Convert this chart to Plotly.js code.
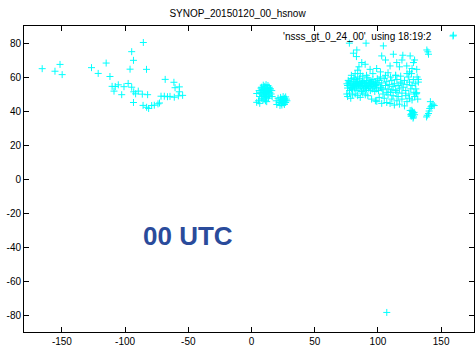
<!DOCTYPE html>
<html>
<head>
<meta charset="utf-8">
<script src="https://cdn.plot.ly/plotly-3.0.1.min.js"></script>
<style>html,body{margin:0;padding:0;background:#fff;}#chart{width:475px;height:350px;}</style>
</head>
<body>
<div id="chart"></div>
<script>
// North America stations (lon, lat)
const naLon = [-165.6,-155.5,-151.5,-149.8,-126.6,-115.0,-121.3,-112.0,-110.3,-108.8,-107.8,-105.4,-100.9,-97.6,-102.7,
  -85.6,-94.8,-93.4,-96.1,-83.1,-94.8,-93.2,-91.7,-89.6,-86.4,-82.2,-93.4,-85.8,-83.0,-81.4,-79.0,-76.9,-72.8,
  -71.6,-69.0,-64.5,-68.3,-61.4,-60.5,-57.1,-57.1,-57.9,-61.1,-54.5,-66.5,-74.0];
const naLat = [64.9,63.4,67.4,61.4,65.5,68.2,62.1,60.3,54.5,51.7,54.4,55.4,54.3,56.2,49.6,
  80.3,74.9,69.8,64.6,64.5,54.0,51.3,50.1,51.7,49.9,49.6,45.0,43.3,42.2,41.5,43.2,43.4,44.7,
  48.7,48.7,48.6,58.6,56.9,53.7,54.2,51.3,48.9,48.1,49.2,48.4,44.2];

// Europe stations
const euLon = [9.3,4.1,4.1,6.0,7.0,8.0,8.5,9.0,9.5,10.0,10.5,11.0,11.5,12.0,12.5,13.0,13.5,14.0,14.5,15.0,
  10.0,11.0,12.0,8.0,6.5,13.0,14.0,16.0,15.5,10.5,11.5,7.5,9.0,12.0,13.5,16.3,5.5,11.0,12.0,10.0,9.0,13.0,14.5,8.0,6.5,
  20.0,19.5,21.0,22.0,23.0,23.5,24.0,24.5,25.0,25.5,26.0,26.5,27.0,27.5,25.0,24.0,26.0,28.0,23.0,22.5,25.0,24.0,26.0,27.0];
const euLat = [55.2,50.3,45.1,52.0,51.0,50.0,52.5,49.0,51.0,53.0,50.0,52.0,48.5,51.0,53.5,50.0,52.0,49.0,51.0,53.0,
  47.0,46.0,45.5,47.5,48.5,55.0,54.0,52.0,50.0,54.5,55.5,53.5,46.5,48.0,47.5,48.5,46.0,50.0,52.0,51.0,52.0,51.5,53.0,54.0,44.5,
  43.8,46.0,47.5,45.0,46.5,44.5,47.0,45.5,46.5,44.8,47.5,46.0,45.0,47.0,48.5,43.5,43.8,46.0,48.0,43.2,45.0,46.0,46.5,48.3];

// Asia stations
const asLon = [77.4,90.6,104.3,80.6,83.3,103.0,112.2,119.7,125.5,138.7,140.0,159.7,139.5,
  87.2,89.9,93.8,109.6,114.9,122.8,128.1,130.7,132.0,130.7,130.0,83.0,85.0,99.0,106.0,114.0,82.0,123.0,127.0,
  84.0,96.0,102.0,108.0,117.0,125.0,86.0,119.0,129.0,
  75.5,76.0,76.5,77.0,77.5,78.0,78.5,79.0,79.5,80.0,80.5,81.0,81.5,82.0,82.5,83.0,83.5,84.0,84.5,85.0,
  85.5,86.0,86.5,87.0,87.5,88.0,88.5,89.0,89.5,90.0,90.5,91.0,91.5,92.0,92.5,93.0,93.5,94.0,94.5,95.0,
  95.5,96.0,96.5,97.0,97.5,98.0,98.5,99.0,99.5,100.0,
  76.0,78.0,80.0,82.0,84.0,86.0,88.0,90.0,92.0,94.0,96.0,98.0,77.0,79.0,81.0,83.0,85.0,87.0,89.0,91.0,
  93.0,95.0,97.0,99.0,81.0,84.0,88.0,91.0,79.0,
  100.5,101.0,102.0,103.0,104.0,105.0,106.0,107.0,108.0,109.0,110.0,111.0,112.0,113.0,114.0,115.0,116.0,117.0,
  118.0,119.0,120.0,102.0,106.0,110.0,114.0,118.0,104.0,108.0,112.0,116.0,103.0,107.0,111.0,115.0,119.0,
  121.0,122.0,123.0,124.0,124.5,125.0,126.0,126.5,127.0,128.0,128.5,129.0,129.5,130.0,131.0,131.5,132.0,
  122.0,125.0,127.0,130.5,
  92.0,95.0,98.0,99.1,101.0,103.0,105.0,107.0,109.6,111.0,113.0,115.0,117.0,119.0,121.0,123.0,
  75.4,76.0,77.5,78.5,80.0,82.0,84.0,86.0,88.0,90.0,
  126.0,126.5,127.0,127.5,128.0,126.8,127.2,128.2,129.0,126.3,127.8,128.6,125.5,126.9,127.4,
  141.5,142.5,143.5,141.0,140.5,140.0,139.0,138.5,144.5,142.0];
const asLat = [79.9,79.9,78.3,74.0,75.9,72.4,73.4,72.8,72.4,75.9,73.4,84.6,74.8,
  68.5,67.5,64.5,66.5,68.5,66.5,68.5,64.5,58.6,50.7,50.0,72.0,66.0,65.0,70.0,61.0,62.0,62.0,65.0,
  64.0,62.0,63.0,62.5,66.0,63.0,62.0,70.0,70.0,
  56.0,53.5,58.0,55.0,52.0,57.5,54.0,59.0,56.0,52.5,55.0,57.0,53.5,58.5,56.0,54.5,52.0,57.0,55.5,53.0,
  59.0,56.5,54.0,51.5,57.5,55.0,53.0,58.0,56.0,54.0,52.0,57.0,55.0,59.5,53.5,56.5,54.5,52.0,57.5,55.5,
  53.0,58.5,56.0,54.0,51.5,57.0,55.0,53.0,59.0,56.5,
  55.0,56.0,54.0,55.0,56.0,55.0,57.0,56.0,55.0,56.0,54.5,55.5,57.0,53.0,55.5,57.5,55.0,56.0,54.5,53.0,
  58.0,57.0,56.0,55.5,59.5,60.0,60.5,61.0,61.0,
  52.0,58.0,54.0,56.5,52.5,59.0,55.0,57.5,53.0,55.5,51.0,58.0,54.5,56.0,52.0,58.5,55.0,53.0,
  57.0,50.5,54.0,60.0,61.0,60.0,61.0,60.5,50.0,49.5,49.0,48.5,53.5,51.0,52.5,51.0,56.0,
  58.0,52.0,55.5,60.0,50.0,57.0,53.0,62.0,55.0,58.5,51.0,48.5,56.0,53.0,60.0,47.0,57.0,
  49.0,47.5,46.5,50.5,
  49.0,47.0,46.0,45.7,48.0,44.5,47.5,45.0,44.4,47.0,43.5,46.0,44.0,47.0,43.0,45.5,
  50.0,48.5,50.5,47.5,49.5,50.0,49.0,48.0,50.5,49.5,
  37.8,38.3,37.2,37.6,38.8,40.4,39.7,36.5,37.8,36.9,35.8,39.2,40.3,38.1,38.9,
  45.5,43.0,44.0,41.5,40.0,38.5,37.5,36.5,43.2,42.5];

// Antarctic station
const anLon = [107.0];
const anLat = [-78.5];

const lon = naLon.concat(euLon, asLon, anLon);
const lat = naLat.concat(euLat, asLat, anLat);

const xTicks = [-150,-100,-50,0,50,100,150];
const yTicks = [-80,-60,-40,-20,0,20,40,60,80];
const titleText = 'SYNOP_20150120_00_hsnow';
const keyText = "'nsss_gt_0_24_00'\u00a0\u00a0using 18:19:2";
const stampText = '00 UTC';

const cyan = '#00ffff';
const font = {family: 'Liberation Sans, Arial, sans-serif', size: 10, color: '#000'};

const trace = {
  x: lon, y: lat, type: 'scatter', mode: 'markers',
  marker: {symbol: 'cross-thin', size: 5, color: cyan, line: {color: cyan, width: 1}},
  showlegend: false, hoverinfo: 'skip'
};

const axisCommon = {
  showline: true, linecolor: '#000', linewidth: 1, mirror: 'allticks',
  ticks: 'inside', ticklen: 5, tickwidth: 1, tickcolor: '#000',
  showgrid: false, zeroline: false, tickfont: font, tickmode: 'array'
};

// legend sample (gnuplot-style key: text then sample at right)
const kx = (453 - 24) / 450, ky = (332 - 36) / 306, hw = 3.5;
const layout = {
  width: 475, height: 350,
  margin: {l: 24, r: 1, t: 26, b: 18, pad: 0},
  paper_bgcolor: '#fff', plot_bgcolor: '#fff',
  font: font,
  title: {text: titleText, font: font, x: 0.5, xanchor: 'center', y: 1 - 13/350, yanchor: 'middle'},
  xaxis: Object.assign({}, axisCommon, {range: [-180, 176], tickvals: xTicks, ticktext: xTicks.map(String)}),
  yaxis: Object.assign({}, axisCommon, {range: [-90, 90], tickvals: yTicks, ticktext: yTicks.map(String)}),
  annotations: [
    {xref: 'paper', yref: 'paper', x: (434 - 24) / 450, y: ky, xanchor: 'right', yanchor: 'middle',
     text: keyText, showarrow: false, font: font},
    {xref: 'paper', yref: 'paper', x: (188 - 24) / 450, y: (332 - 236) / 306, xanchor: 'center', yanchor: 'middle',
     text: '<b>' + stampText + '</b>', showarrow: false,
     font: {family: 'Liberation Sans, Arial, sans-serif', size: 26, color: '#2a4b9b'}}
  ],
  shapes: [
    {type: 'line', xref: 'paper', yref: 'paper', x0: kx - hw/450, x1: kx + hw/450, y0: ky, y1: ky, line: {color: cyan, width: 1}},
    {type: 'line', xref: 'paper', yref: 'paper', x0: kx, x1: kx, y0: ky - hw/306, y1: ky + hw/306, line: {color: cyan, width: 1}}
  ]
};

Plotly.newPlot('chart', [trace], layout, {displayModeBar: false, staticPlot: true});
</script>
</body>
</html>
